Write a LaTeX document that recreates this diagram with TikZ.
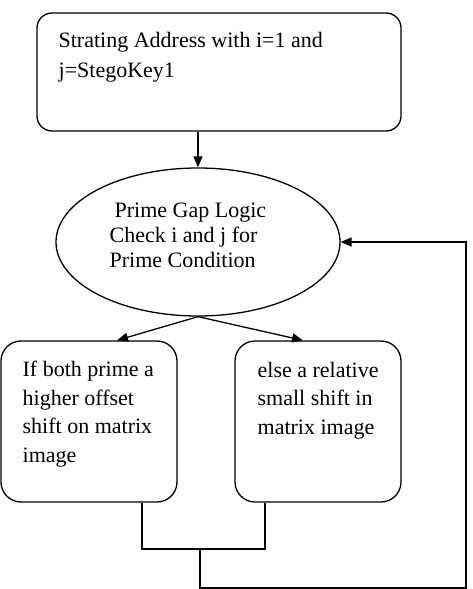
\documentclass[tikz,border=0pt]{standalone}
\usepackage{fontspec}
\setmainfont{Liberation Serif}
\usetikzlibrary{arrows.meta,shapes.geometric}
\begin{document}
\begin{tikzpicture}[x=1pt,y=-1pt,line width=1.3pt,
  arr/.style={-{Triangle[length=11pt,width=9pt]}},
  boxa/.style={draw,rounded corners=15pt,inner sep=0pt},
  boxb/.style={draw,rounded corners=20pt,inner sep=0pt},
  txt/.style={anchor=base west,inner sep=0pt,align=left}]
\useasboundingbox (0,0) rectangle (473,589);
\node[boxa,minimum width=364pt,minimum height=118pt] (top) at (219,72) {};
\node[draw,ellipse,inner sep=0pt,minimum width=284pt,minimum height=148pt] (e) at (198,242) {};
\node[boxb,minimum width=176pt,minimum height=161pt] (lb) at (89,421.5) {};
\node[boxb,minimum width=166pt,minimum height=161pt] (rb) at (318,421.5) {};
\node[txt,font=\fontsize{22pt}{30pt}\selectfont] (toptxt) at (58,77) {Strating Address with i=1 and\\j=StegoKey1};
\node[txt,font=\fontsize{22pt}{25pt}\selectfont] (etxt) at (109,267) {\hspace*{5pt}Prime Gap Logic\\Check i and j for\\Prime Condition};
\node[txt,font=\fontsize{22pt}{28.5pt}\selectfont] (lbtxt) at (22,462) {If both prime a\\higher offset\\shift on matrix\\image};
\node[txt,font=\fontsize{22pt}{28.5pt}\selectfont] (rbtxt) at (257,434) {else a relative\\small shift in\\matrix image};
\draw[arr] (top.south -| e.north) -- (e.north);
\draw[arr] (e.south) -- ([xshift=28pt]lb.north);
\draw[arr] (e.south) -- ([xshift=-15pt]rb.north);
\coordinate (j) at (200,549);
\coordinate (loopb) at (466,588);
\draw ([xshift=53pt]lb.south) |- (j) -| ([xshift=-53pt]rb.south);
\draw[arr] (j) |- (loopb) |- (e.east);
\end{tikzpicture}
\end{document}
